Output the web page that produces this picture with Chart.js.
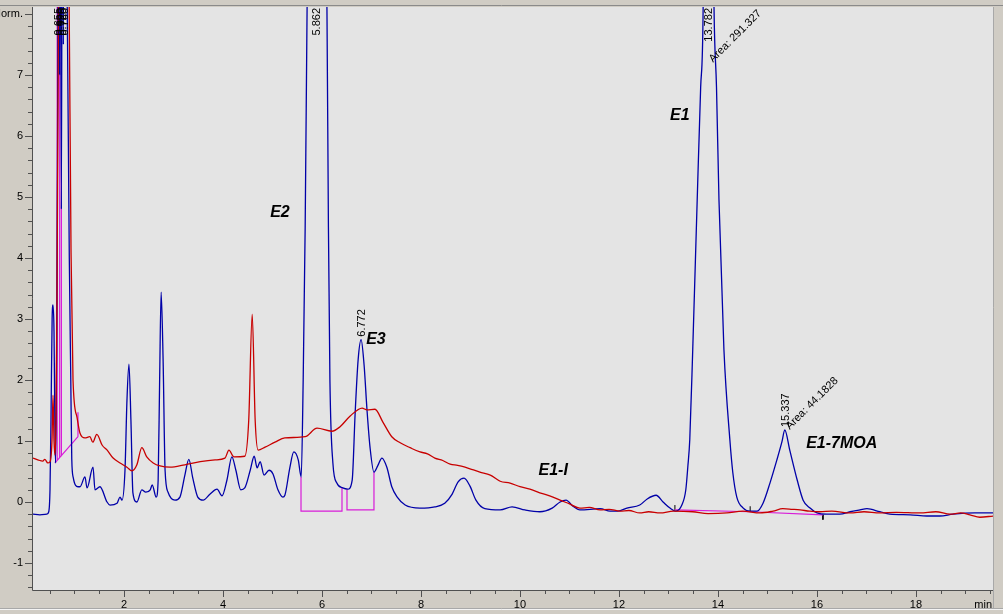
<!DOCTYPE html>
<html><head><meta charset="utf-8">
<script src="https://cdn.jsdelivr.net/npm/chart.js@4.4.1/dist/chart.umd.min.js"></script>
<style>html,body{margin:0;padding:0;background:#d0ccc4;overflow:hidden}canvas{display:block}</style>
</head><body><canvas id="c" width="1003" height="614"></canvas>
<script>
// ---- data (time in min, signal in norm. units) ----
const blueTime = [0.16,0.30,0.44,0.48,0.505,0.525,0.548,0.566,0.586,0.603,0.616,0.640,0.660,0.680,0.697,0.712,0.735,0.755,0.775,0.80,0.85,0.895,0.925,0.945,0.975,1.07,1.111,1.212,1.253,1.374,1.414,1.515,1.657,1.717,1.859,1.919,1.96,2.02,2.06,2.10,2.14,2.18,2.26,2.36,2.44,2.53,2.57,2.65,2.69,2.72,2.75,2.79,2.83,2.89,3.03,3.13,3.23,3.31,3.39,3.49,3.60,3.74,3.88,3.98,4.08,4.18,4.26,4.36,4.44,4.55,4.63,4.69,4.75,4.83,4.93,5.01,5.11,5.21,5.25,5.35,5.43,5.52,5.58,5.62,5.66,5.70,5.862,6.10,6.13,6.16,6.22,6.30,6.42,6.52,6.61,6.67,6.73,6.79,6.85,6.91,6.97,7.05,7.13,7.21,7.31,7.41,7.52,7.68,7.98,8.28,8.48,8.63,8.75,8.87,8.99,9.11,9.29,9.60,9.84,10.10,10.40,10.65,10.81,10.93,11.07,11.21,11.62,11.82,11.98,12.16,12.42,12.57,12.75,12.89,13.03,13.15,13.27,13.35,13.39,13.43,13.49,13.58,13.65,13.70,13.782,13.92,13.97,14.02,14.12,14.24,14.30,14.38,14.51,14.65,14.79,14.91,15.05,15.19,15.29,15.35,15.45,15.60,15.72,15.86,16.00,16.20,16.46,16.67,16.87,17.01,17.27,17.47,17.88,18.22,18.48,18.75,19.19,19.56];
const blueSignal = [-0.20,-0.21,-0.20,-0.16,0.20,1.35,3.0,3.23,2.8,1.35,0.64,2.5,6.6,12,7,12,4.8,12,7.5,14,8.5,4.0,2.0,0.7,0.4,0.25,0.25,0.41,0.23,0.57,0.20,0.25,0.0,-0.05,-0.02,0.08,0.03,0.52,1.67,2.26,1.34,0.15,0.0,0.2,0.16,0.2,0.28,0.08,0.36,2.0,3.44,2.33,0.52,0.16,0.03,0.08,0.44,0.70,0.39,0.08,0.03,0.13,0.21,0.10,0.36,0.74,0.52,0.20,0.23,0.52,0.75,0.56,0.66,0.44,0.52,0.46,0.20,0.08,0.11,0.56,0.82,0.69,0.41,2.0,4.5,8.2,20,8.1,4.5,2.0,0.64,0.31,0.23,0.21,0.36,1.46,2.33,2.66,2.25,1.5,0.9,0.49,0.60,0.72,0.57,0.25,0.08,-0.05,-0.10,-0.08,-0.02,0.13,0.33,0.39,0.26,0.03,-0.11,-0.13,-0.08,-0.13,-0.16,-0.10,0.0,0.03,-0.07,-0.13,-0.11,-0.15,-0.15,-0.10,-0.05,0.05,0.11,0.0,-0.10,-0.15,-0.05,0.20,0.57,1.02,2.5,4.95,6.8,8.1,20,8.1,6.8,4.95,2.5,1.02,0.48,0.08,-0.10,-0.15,-0.15,-0.02,0.31,0.69,0.98,1.18,0.85,0.36,0.03,-0.10,-0.18,-0.20,-0.20,-0.16,-0.13,-0.11,-0.16,-0.20,-0.21,-0.23,-0.23,-0.20,-0.18,-0.18];

const redTime = [0.16,0.26,0.36,0.40,0.46,0.505,0.545,0.566,0.586,0.606,0.626,0.646,0.68,0.79,0.889,0.93,0.97,1.05,1.11,1.21,1.31,1.37,1.45,1.56,1.66,1.78,1.92,2.06,2.16,2.26,2.36,2.46,2.59,2.73,2.93,3.23,3.54,3.84,4.04,4.12,4.22,4.44,4.52,4.59,4.65,4.71,4.85,5.05,5.25,5.66,5.90,6.20,6.36,6.57,6.81,6.91,7.07,7.23,7.41,7.58,7.78,7.98,8.13,8.28,8.44,8.59,8.74,8.89,9.04,9.19,9.40,9.60,9.80,10.0,10.20,10.40,10.60,10.81,11.00,11.21,11.40,11.62,11.80,12.02,12.20,12.42,12.60,12.83,13.10,13.49,13.80,14.18,14.50,14.85,15.11,15.31,15.50,15.66,15.85,16.06,16.30,16.67,16.95,17.27,17.60,18.08,18.40,18.69,18.90,19.09,19.29,19.56];
const redSignal = [0.72,0.69,0.67,0.70,0.64,0.66,1.0,1.75,1.0,0.77,1.34,3.3,8.5,15,8.5,4.1,2.0,1.39,1.13,1.05,1.07,0.98,1.11,0.93,0.85,0.72,0.64,0.57,0.51,0.61,0.89,0.74,0.64,0.59,0.57,0.61,0.66,0.69,0.72,0.85,0.74,0.75,1.34,3.08,1.34,0.85,0.90,0.98,1.05,1.07,1.21,1.16,1.23,1.41,1.54,1.51,1.52,1.31,1.07,0.97,0.89,0.82,0.79,0.72,0.68,0.62,0.60,0.57,0.53,0.49,0.44,0.34,0.31,0.25,0.21,0.15,0.10,0.03,-0.03,-0.10,-0.09,-0.13,-0.12,-0.15,-0.14,-0.18,-0.16,-0.18,-0.15,-0.16,-0.19,-0.18,-0.15,-0.18,-0.15,-0.11,-0.12,-0.13,-0.15,-0.16,-0.15,-0.18,-0.16,-0.18,-0.17,-0.18,-0.16,-0.20,-0.18,-0.21,-0.25,-0.23];

// integration baselines (null = break)
const baseTime   = [0.606,1.07,null, 0.65,0.65,null, 0.70,0.70,null, 0.735,0.735,null, 1.07,1.07,null, 5.576,5.576,6.404,6.404,null, 6.505,6.505,7.05,7.05,null, 13.13,14.65,16.12];
const baseSignal = [0.64,1.07,null, 0.68,9,null, 0.72,9,null, 0.75,9,null, 1.07,1.47,null, 0.41,-0.15,-0.15,0.23,null, 0.21,-0.13,-0.13,0.49,null, -0.13,-0.16,-0.21];
const markTime   = [13.13,13.13,null,14.65,14.65,null,16.12,16.12];
const markSignal = [-0.13,-0.05,null,-0.16,-0.07,null,-0.21,-0.29];

// peak annotations
const peakTimes  = [0.655,0.690,0.725,0.760,5.862,6.772,13.782,15.337];
const peakLabels = ['0.655','0.690','0.725','0.760','5.862','6.772','13.782','15.337'];
const peakApex   = [20,20,20,20,20,2.66,20,1.18];
const areaLabels = ['Area: 291.327','Area: 44.1828'];
const areaTime   = [13.90,15.45];
const areaSignal = [7.2,1.18];
const compoundNames  = ['E2','E3','E1','E1-I','E1-7MOA'];
const compoundTime   = [5.15,7.09,13.23,10.67,16.5];
const compoundSignal = [4.74,2.66,6.33,0.51,0.95];

// axes
const X_MIN = 0.1616, X_MAX = 19.556, Y_MIN = -1.443, Y_MAX = 8.115;
const xTickValues = Array.from({length:39},(_, i)=> (i+1)*0.5);
const yTickValues = Array.from({length:48},(_, i)=> Math.round((-1.4 + i*0.2)*10)/10);
const yUnitLabel = 'Norm.';
const xUnitLabel = 'min';

// ---- build ----
const pts = (xs, ys) => xs.map((x,i)=> (x===null ? {x:NaN,y:null} : {x:x,y:ys[i]}));
const FONT = '"Liberation Sans", Arial, sans-serif';
Chart.defaults.font.family = FONT;

const deco = {
  id:'deco',
  beforeDraw(chart){
    const {ctx, chartArea:a} = chart;
    ctx.save();
    ctx.fillStyle = '#d0ccc4'; ctx.fillRect(0,0,chart.width,chart.height);
    ctx.fillStyle = '#e4e4e4'; ctx.fillRect(a.left,a.top,a.right-a.left,a.bottom-a.top);
    ctx.strokeStyle = '#8a8a8a'; ctx.lineWidth = 1;
    ctx.beginPath(); ctx.moveTo(0,5.5); ctx.lineTo(chart.width,5.5); ctx.stroke();
    ctx.strokeStyle = '#a8a8a8';
    ctx.beginPath(); ctx.moveTo(a.right+0.5,a.top); ctx.lineTo(a.right+0.5,chart.height-6); ctx.stroke();
    ctx.beginPath(); ctx.moveTo(0,chart.height-5.5); ctx.lineTo(chart.width,chart.height-5.5); ctx.stroke();
    ctx.strokeStyle = '#f4f4f4';
    ctx.beginPath(); ctx.moveTo(0,chart.height-4.5); ctx.lineTo(chart.width,chart.height-4.5); ctx.stroke();
    ctx.restore();
  },
  afterDraw(chart){
    const {ctx, chartArea:a, scales:{x:xs, y:ys}} = chart;
    ctx.save();
    ctx.strokeStyle = '#505050'; ctx.lineWidth = 1;
    ctx.beginPath(); ctx.moveTo(a.left-0.5,a.top); ctx.lineTo(a.left-0.5,a.bottom+0.5); ctx.lineTo(a.right,a.bottom+0.5); ctx.stroke();
    ctx.beginPath();
    yTickValues.forEach(v=>{ const y=Math.round(ys.getPixelForValue(v))+0.5; const major=Number.isInteger(v); ctx.moveTo(a.left-(major?8:5),y); ctx.lineTo(a.left-1,y); });
    xTickValues.forEach(v=>{ const x=Math.round(xs.getPixelForValue(v))+0.5; const major=Number.isInteger(v)&&v%2===0; ctx.moveTo(x,a.bottom+1); ctx.lineTo(x,a.bottom+(major?7:4)); });
    ctx.stroke();
    ctx.fillStyle = '#000';
    ctx.font = '11px '+FONT;
    ctx.textAlign = 'right'; ctx.textBaseline = 'top';
    ctx.fillText(xUnitLabel, a.right-1, a.bottom+9);
    ctx.beginPath(); ctx.rect(a.left,a.top,a.right-a.left,a.bottom-a.top); ctx.clip();
    peakTimes.forEach((t,i)=>{
      const px = xs.getPixelForValue(t)+2;
      ctx.save();
      ctx.textBaseline = 'middle';
      if (peakApex[i] > Y_MAX) { ctx.translate(px, a.top+1); ctx.textAlign='right'; }
      else { ctx.translate(px, ys.getPixelForValue(peakApex[i])-3); ctx.textAlign='left'; }
      ctx.rotate(-Math.PI/2);
      ctx.fillText(peakLabels[i],0,0);
      ctx.restore();
    });
    areaLabels.forEach((s,i)=>{
      ctx.save();
      ctx.translate(xs.getPixelForValue(areaTime[i]), ys.getPixelForValue(areaSignal[i]));
      ctx.rotate(-45*Math.PI/180);
      ctx.textAlign='left'; ctx.textBaseline='alphabetic';
      ctx.fillText(s,0,0);
      ctx.restore();
    });
    ctx.font = 'italic bold 16px '+FONT;
    ctx.textAlign='center'; ctx.textBaseline='middle';
    compoundNames.forEach((s,i)=>{
      ctx.fillText(s, xs.getPixelForValue(compoundTime[i]), ys.getPixelForValue(compoundSignal[i]));
    });
    ctx.restore();
  }
};

new Chart(document.getElementById('c'), {
  type:'scatter',
  data:{ datasets:[
    {data:pts(redTime,redSignal), showLine:true, borderColor:'#c80000', borderWidth:1.3, pointRadius:0, cubicInterpolationMode:'monotone'},
    {data:pts(blueTime,blueSignal), showLine:true, borderColor:'#0000a8', borderWidth:1.3, pointRadius:0, cubicInterpolationMode:'monotone'},
    {data:pts(baseTime,baseSignal), showLine:true, borderColor:'#d81cd8', borderWidth:1.2, pointRadius:0, spanGaps:false},
    {data:pts(markTime,markSignal), showLine:true, borderColor:'#000000', borderWidth:1, pointRadius:0, spanGaps:false}
  ]},
  options:{
    responsive:false, animation:false, devicePixelRatio:1,
    layout:{padding:{left:0,top:7,right:10,bottom:0}},
    plugins:{legend:{display:false}, tooltip:{enabled:false}},
    scales:{
      x:{type:'linear', min:X_MIN, max:X_MAX,
         afterFit(s){ s.height = 24; s.paddingLeft = 0; s.paddingRight = 0; },
         afterBuildTicks(s){ s.ticks = xTickValues.map(v=>({value:v})); },
         grid:{display:false, drawTicks:false}, border:{display:false},
         ticks:{autoSkip:false, maxRotation:0, padding:8, color:'#000', font:{size:11},
                callback:(v)=> (Number.isInteger(v) && v%2===0) ? String(v) : ''}},
      y:{type:'linear', min:Y_MIN, max:Y_MAX,
         afterFit(s){ s.width = 33; s.paddingTop = 0; s.paddingBottom = 0; },
         afterBuildTicks(s){ s.ticks = yTickValues.map(v=>({value:v})); },
         grid:{display:false, drawTicks:false}, border:{display:false},
         ticks:{autoSkip:false, padding:10, color:'#000', font:{size:11},
                callback:(v)=> v===8 ? yUnitLabel : (Number.isInteger(v) ? String(v) : '')}}
    }
  },
  plugins:[deco]
});
</script></body></html>
